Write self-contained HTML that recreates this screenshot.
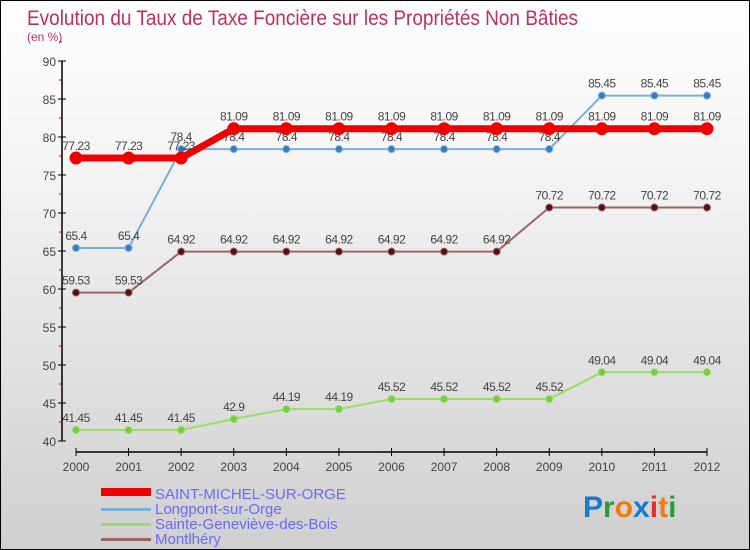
<!DOCTYPE html>
<html><head><meta charset="utf-8"><style>
html,body{margin:0;padding:0}
body{width:750px;height:550px;overflow:hidden;font-family:"Liberation Sans",sans-serif}
#wrap{position:relative;width:748px;height:548px;border:1px solid #000;background:linear-gradient(#ffffff,#f4f4f4 30%,#cfcfcf)}
</style></head><body>
<div id="wrap">
<svg id="chart" width="748" height="548" style="position:absolute;left:0;top:0">
<text x="26" y="24" font-size="21" fill="#c0305a" textLength="551" lengthAdjust="spacingAndGlyphs">Evolution du Taux de Taxe Foncière sur les Propriétés Non Bâties</text>
<text x="26" y="40" font-size="12" fill="#c0305a">(en %)</text>
<g id="axes"></g><g id="series"></g>
<g>
<rect x="100" y="487" width="50" height="8" fill="#e00"/>
<text x="154" y="498" font-size="15" fill="#6a6aff">SAINT-MICHEL-SUR-ORGE</text>
<rect x="100" y="507" width="50" height="3" fill="#7ab0d8"/>
<text x="154" y="513" font-size="15" fill="#6a6aff">Longpont-sur-Orge</text>
<rect x="100" y="522" width="50" height="3" fill="#99dd66"/>
<text x="154" y="528" font-size="15" fill="#6a6aff">Sainte-Geneviève-des-Bois</text>
<rect x="100" y="537" width="50" height="3" fill="#996666"/>
<text x="154" y="543" font-size="15" fill="#6a6aff">Montlhéry</text>
</g>
<text x="582" y="516" font-size="30" font-weight="bold"><tspan fill="#1a7ad0">P</tspan><tspan fill="#2a9a3a">r</tspan><tspan fill="#f07a10">o</tspan><tspan fill="#1a7ad0">x</tspan><tspan fill="#e03030">i</tspan><tspan fill="#f07a10">t</tspan><tspan fill="#2a9a3a">i</tspan></text>
</svg>
</div>
<script>
const years=[2000,2001,2002,2003,2004,2005,2006,2007,2008,2009,2010,2011,2012];
const yTicks=[40,45,50,55,60,65,70,75,80,85,90];
const stMichel=[77.23,77.23,77.23,81.09,81.09,81.09,81.09,81.09,81.09,81.09,81.09,81.09,81.09];
const longpont=[65.4,65.4,78.4,78.4,78.4,78.4,78.4,78.4,78.4,78.4,85.45,85.45,85.45];
const steGenevieve=[41.45,41.45,41.45,42.9,44.19,44.19,45.52,45.52,45.52,45.52,49.04,49.04,49.04];
const montlhery=[59.53,59.53,64.92,64.92,64.92,64.92,64.92,64.92,64.92,70.72,70.72,70.72,70.72];
const NS="http://www.w3.org/2000/svg";
function X(i){return 75+i*(706-75)/(years.length-1);}
function Y(v){return 440-(v-40)*7.6;}
function mk(t,a,p){const e=document.createElementNS(NS,t);for(const k in a)e.setAttribute(k,a[k]);p.appendChild(e);return e;}
const ax=document.getElementById('axes');
const yl=mk('line',{x1:61,y1:Y(90),x2:61,y2:Y(40),stroke:'#000','stroke-width':1.5},ax);


yTicks.forEach(v=>{
 mk('line',{x1:57,y1:Y(v),x2:65,y2:Y(v),stroke:'#000'},ax);
 mk('line',{x1:58,y1:Y(v+2.5),x2:61,y2:Y(v+2.5),stroke:'#d00'},ax);
 const t=mk('text',{x:55,y:Y(v)+5,'text-anchor':'end','font-size':12,fill:'#444'},ax);t.textContent=v;
 
 
});
const xl=mk('line',{x1:75,y1:451,x2:706,y2:451,stroke:'#000','stroke-width':1.5},ax);


years.forEach((y,i)=>{
 mk('line',{x1:X(i),y1:447,x2:X(i),y2:455,stroke:'#000'},ax);
 const t=mk('text',{x:X(i),y:470,'text-anchor':'middle','font-size':12,fill:'#444'},ax);t.textContent=y;
 
 
});
const sg=document.getElementById('series');
function draw(data,name,color,w,r,fill){
 const g=mk('g',{},sg);
 
 
 mk('polyline',{points:data.map((v,i)=>X(i)+','+Y(v)).join(' '),fill:'none',stroke:color,'stroke-width':w},g);
 data.forEach((v,i)=>{
  const c=mk('circle',{cx:X(i),cy:Y(v),r:r,fill:fill,stroke:color,'stroke-width':1},g);
  
  
  const t=mk('text',{x:X(i),y:Y(v)-8,'text-anchor':'middle','font-size':12,fill:'#444','letter-spacing':'-0.5'},g);
  t.textContent=v;
  
  
 });
}
draw(steGenevieve,'sainte-genevieve','#99dd66',2,3.5,'#77cc44');
draw(montlhery,'montlhery','#996666',2,3.5,'#551111');
draw(longpont,'longpont','#7ab0d8',2,3.5,'#3a7ac0');
draw(stMichel,'saint-michel','#ee0000',7,6,'#ee0000');
</script>
</body></html>
